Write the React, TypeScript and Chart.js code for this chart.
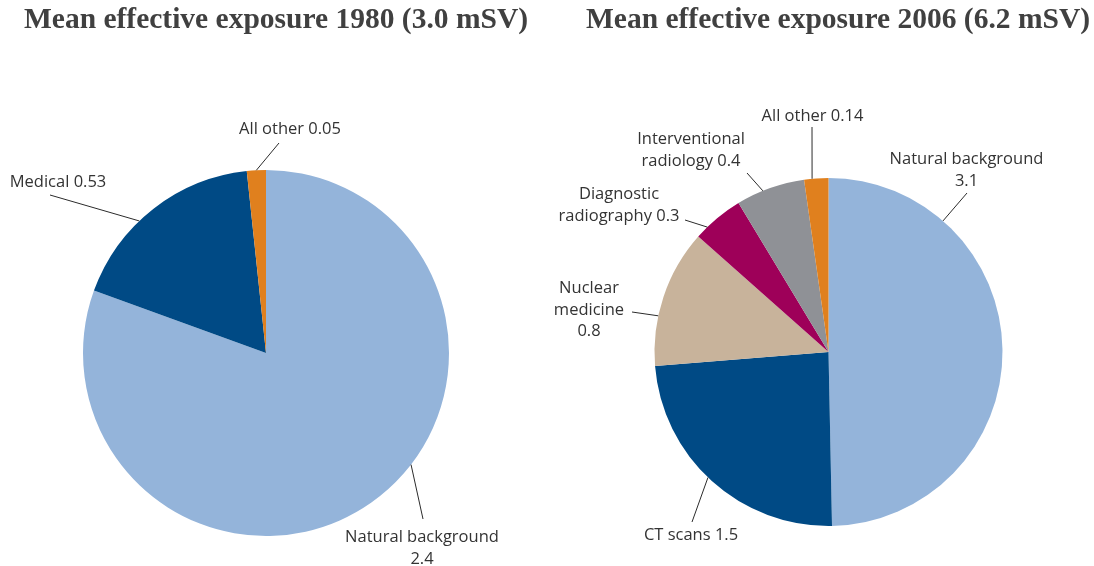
import React, { useEffect, useRef } from 'react';
import { Chart, registerables } from 'chart.js';

Chart.register(...registerables);

// ---- Data ----
const title1980 = 'Mean effective exposure 1980 (3.0 mSV)';
const categories1980 = ['Natural background', 'Medical', 'All other'];
const values1980 = [2.4, 0.53, 0.05];
const colors1980 = ['#94b4da', '#004a85', '#e0801e'];

const title2006 = 'Mean effective exposure 2006 (6.2 mSV)';
const categories2006 = [
  'Natural background',
  'CT scans',
  'Nuclear medicine',
  'Diagnostic radiography',
  'Interventional radiology',
  'All other',
];
const values2006 = [3.1, 1.5, 0.8, 0.3, 0.4, 0.14];
const colors2006 = ['#94b4da', '#004a85', '#c8b39b', '#9e0059', '#8f9196', '#e0801e'];

// ---- Callout layout (relative to pie centre) ----
// wrap: number of words per text line (label words followed by the value)
type Callout = { frac: number; end: [number, number]; text: [number, number]; wrap: number[] };

const callouts1980: Callout[] = [
  { frac: 0.44, end: [157, 166], text: [156, 183], wrap: [2, 1] },
  { frac: 0.41, end: [-216, -158], text: [-208, -172], wrap: [2] },
  { frac: 0.5, end: [13, -210], text: [24, -225], wrap: [3] },
];

const callouts2006: Callout[] = [
  { frac: 0.23, end: [138.5, -159], text: [138, -194], wrap: [2, 1] },
  { frac: 0.52, end: [-136.5, 170], text: [-137.5, 182], wrap: [3] },
  { frac: 0.36, end: [-196.5, -40], text: [-239.5, -65], wrap: [1, 1, 1] },
  { frac: 0.25, end: [-143.5, -132], text: [-209.5, -159], wrap: [1, 2] },
  { frac: 0.39, end: [-81.5, -179], text: [-137.5, -214], wrap: [1, 2] },
  { frac: 0.33, end: [-16.5, -225], text: [-16, -237], wrap: [3] },
];

const LABEL_FONT = '16.5px "Open Sans", Lato, sans-serif';
const TITLE_FONT = 'bold 29.5px "Liberation Serif", "Times New Roman", serif';
const LINE_H = 21.5;
const TEXT_DY = 1.5;

const calloutPlugin = {
  id: 'callouts',
  afterDraw(chart: any, _args: any, opts: any) {
    const ctx = chart.ctx as CanvasRenderingContext2D;
    const meta = chart.getDatasetMeta(0);
    const data = chart.data.datasets[0].data as number[];
    const labels = chart.data.labels as string[];
    ctx.save();
    // title
    ctx.font = TITLE_FONT;
    ctx.fillStyle = '#404040';
    ctx.textAlign = 'center';
    ctx.textBaseline = 'middle';
    ctx.fillText(opts.title, opts.titleX, opts.titleY);

    meta.data.forEach((arc: any, i: number) => {
      const L: Callout = opts.layout[i];
      if (!L) return;
      const { x, y, startAngle, endAngle, outerRadius } = arc.getProps(
        ['x', 'y', 'startAngle', 'endAngle', 'outerRadius'],
        true
      );
      const a = startAngle + (endAngle - startAngle) * L.frac;
      const ax = x + Math.cos(a) * outerRadius;
      const ay = y + Math.sin(a) * outerRadius;
      ctx.strokeStyle = '#2b2b2b';
      ctx.lineWidth = 1;
      ctx.beginPath();
      ctx.moveTo(ax, ay);
      ctx.lineTo(x + L.end[0], y + L.end[1]);
      ctx.stroke();

      const words = `${labels[i]} ${data[i]}`.split(' ');
      const lines: string[] = [];
      let p = 0;
      L.wrap.forEach((n) => {
        lines.push(words.slice(p, p + n).join(' '));
        p += n;
      });
      ctx.font = LABEL_FONT;
      ctx.fillStyle = '#333333';
      ctx.textAlign = 'center';
      ctx.textBaseline = 'middle';
      lines.forEach((ln, k) =>
        ctx.fillText(ln, x + L.text[0], y + L.text[1] + TEXT_DY + k * LINE_H)
      );
    });
    ctx.restore();
  },
};

function PieChart(props: {
  labels: string[];
  values: number[];
  colors: string[];
  title: string;
  titleX: number;
  layout: Callout[];
  padding: { left: number; right: number; top: number; bottom: number };
}) {
  const ref = useRef<HTMLCanvasElement>(null);
  useEffect(() => {
    if (!ref.current) return;
    const chart = new Chart(ref.current, {
      type: 'pie',
      data: {
        labels: props.labels,
        datasets: [
          {
            data: props.values,
            backgroundColor: props.colors,
            borderWidth: 0,
          },
        ],
      },
      options: {
        responsive: false,
        animation: false,
        events: [],
        layout: { padding: props.padding },
        plugins: {
          legend: { display: false },
          tooltip: { enabled: false },
          title: { display: false },
          callouts: { title: props.title, titleX: props.titleX, titleY: 20, layout: props.layout },
        } as any,
      },
      plugins: [calloutPlugin],
    });
    return () => chart.destroy();
  }, []);
  return <canvas ref={ref} width={547} height={566} style={{ display: 'block' }} />;
}

export default function App() {
  return (
    <div
      style={{
        position: 'fixed',
        left: 0,
        top: 0,
        width: 1094,
        height: 566,
        background: '#ffffff',
        overflow: 'hidden',
      }}
    >
      <div style={{ position: 'absolute', left: 0, top: 0 }}>
        <PieChart
          labels={categories1980}
          values={values1980}
          colors={colors1980}
          title={title1980}
          titleX={276}
          layout={callouts1980}
          padding={{ left: 83, right: 98, top: 170, bottom: 30 }}
        />
      </div>
      <div style={{ position: 'absolute', left: 547, top: 0 }}>
        <PieChart
          labels={categories2006}
          values={values2006}
          colors={colors2006}
          title={title2006}
          titleX={291}
          layout={callouts2006}
          padding={{ left: 107.5, right: 91.5, top: 178, bottom: 40 }}
        />
      </div>
    </div>
  );
}
